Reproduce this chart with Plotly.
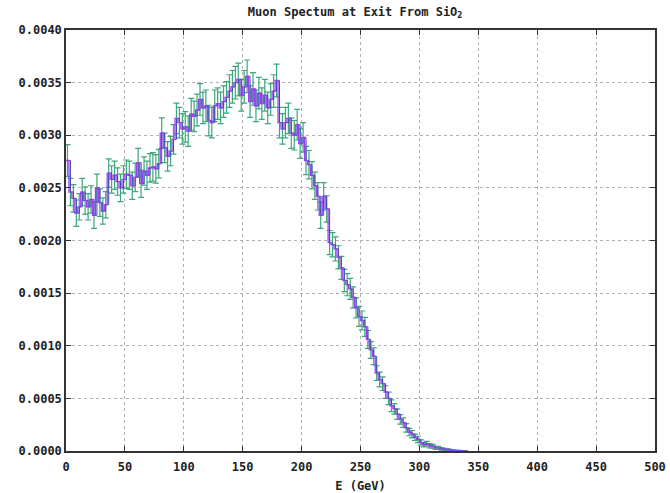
import plotly.graph_objects as go

# Histogram: 2.5 GeV bins starting at 0 GeV
bin_width = 2.5
# bin contents, in units of 1e-4
density_e4 = [
    27.6, 24.6, 24.0, 22.6, 23.2, 24.6, 23.8, 23.2, 23.9, 22.4,
    25.0, 23.6, 22.8, 23.4, 26.4, 25.8, 26.2, 25.6, 25.0, 25.8,
    26.3, 26.2, 25.2, 26.0, 27.4, 25.4, 26.6, 26.2, 26.9, 27.0,
    26.8, 27.3, 30.2, 28.8, 28.0, 28.5, 29.6, 31.6, 31.2, 30.6,
    30.8, 30.4, 32.0, 31.8, 32.4, 33.4, 32.6, 32.8, 31.4, 31.2,
    32.8, 33.0, 32.6, 33.2, 33.6, 34.2, 34.6, 35.0, 35.3, 33.8,
    34.6, 35.6, 33.2, 34.4, 32.8, 34.0, 33.0, 33.8, 32.6, 33.4,
    34.2, 35.2, 31.2, 30.6, 31.2, 31.6, 30.2, 30.0, 31.0, 29.2,
    29.8, 27.6, 27.2, 26.2, 25.2, 24.2, 22.4, 24.2, 23.0, 19.8,
    19.6, 19.2, 18.4, 17.4, 16.2, 15.8, 15.4, 14.6, 13.6, 12.8,
    12.4, 11.8, 10.6, 9.6, 9.0, 7.4, 6.8, 6.4, 5.6, 5.0,
    4.3, 4.0, 3.5, 3.0, 2.7, 2.2, 1.8, 1.6, 1.3, 1.1,
    0.8, 0.6, 0.7, 0.5, 0.45, 0.3, 0.3, 0.2, 0.15, 0.12,
    0.08, 0.05, 0.04, 0.02, 0.01, 0.01,
]
# statistical errors, in units of 1e-4
error_e4 = [
    1.5, 1.3, 1.3, 1.25, 1.25, 1.3, 1.3, 1.25, 1.3, 1.25,
    1.3, 1.3, 1.25, 1.25, 1.35, 1.3, 1.35, 1.3, 1.3, 1.3,
    1.35, 1.35, 1.3, 1.35, 1.35, 1.3, 1.35, 1.35, 1.35, 1.35,
    1.35, 1.35, 1.45, 1.4, 1.4, 1.4, 1.4, 1.45, 1.45, 1.45,
    1.45, 1.45, 1.5, 1.45, 1.5, 1.5, 1.5, 1.5, 1.45, 1.45,
    1.5, 1.5, 1.5, 1.5, 1.5, 1.55, 1.55, 1.55, 1.55, 1.5,
    1.55, 1.55, 1.5, 1.55, 1.5, 1.5, 1.5, 1.5, 1.5, 1.5,
    1.55, 1.55, 1.45, 1.45, 1.45, 1.45, 1.45, 1.4, 1.45, 1.4,
    1.4, 1.35, 1.35, 1.3, 1.3, 1.3, 1.25, 1.3, 1.25, 1.15,
    1.15, 1.15, 1.1, 1.1, 1.05, 1.05, 1.0, 1.0, 0.95, 0.95,
    0.9, 0.9, 0.85, 0.8, 0.8, 0.7, 0.7, 0.65, 0.6, 0.6,
    0.55, 0.5, 0.5, 0.45, 0.45, 0.4, 0.35, 0.35, 0.3, 0.3,
    0.25, 0.2, 0.22, 0.2, 0.18, 0.15, 0.15, 0.12, 0.1, 0.1,
    0.08, 0.06, 0.05, 0.04, 0.03, 0.03,
]
x_ticks = [0, 50, 100, 150, 200, 250, 300, 350, 400, 450, 500]
y_ticks = [0.0, 0.0005, 0.0010, 0.0015, 0.0020, 0.0025, 0.0030, 0.0035, 0.0040]
y_tick_text = ["0.0000", "0.0005", "0.0010", "0.0015", "0.0020",
               "0.0025", "0.0030", "0.0035", "0.0040"]

n = len(density_e4)
vals = [v * 1e-4 for v in density_e4]
errs = [e * 1e-4 for e in error_e4]
edges = [i * bin_width for i in range(n + 1)]
centers = [(edges[i] + edges[i + 1]) / 2 for i in range(n)]

PURPLE = "#9b3ff0"
BLUE = "#4444bb"
GREEN = "#3da67c"
FONT = "DejaVu Sans Mono"

fig = go.Figure()
# error bars
fig.add_trace(go.Scatter(
    x=centers, y=vals, mode="markers",
    marker=dict(size=1, color=GREEN, opacity=0),
    error_y=dict(type="data", array=errs, visible=True, color=GREEN,
                 thickness=1.2, width=3),
    showlegend=False, hoverinfo="skip"))
# steps through bin centres
fig.add_trace(go.Scatter(
    x=centers, y=vals, mode="lines", line=dict(color=BLUE, width=1.0, shape="hv"),
    showlegend=False))
# histogram steps
fig.add_trace(go.Scatter(
    x=edges, y=vals + [vals[-1]], mode="lines",
    line=dict(color=PURPLE, width=1.3, shape="hv"),
    showlegend=False))

axis_font = dict(family=FONT, size=12, color="#222222", weight="bold")
fig.update_layout(
    width=670, height=493,
    margin=dict(l=66, r=15, t=30, b=42),
    paper_bgcolor="white", plot_bgcolor="white",
    title=dict(text="Muon Spectum at Exit From SiO<sub>2</sub>",
               x=0.53, xanchor="center", y=0.985, yanchor="top",
               font=dict(family=FONT, size=12, color="#222222", weight="bold")),
    xaxis=dict(range=[0, 500], tickvals=x_ticks, ticks="inside", ticklen=5,
               tickcolor="#333333", showline=True, linecolor="#333333", linewidth=1.5,
               mirror="ticks", showgrid=True, gridcolor="#b0b0b0", griddash="dot",
               gridwidth=1, zeroline=False, tickfont=axis_font, automargin=False,
               ticklabelstandoff=4,
               title=dict(text="E (GeV)", font=axis_font, standoff=11)),
    yaxis=dict(range=[0, 0.004], tickvals=y_ticks, ticktext=y_tick_text,
               ticks="inside", ticklen=5, tickcolor="#333333", showline=True,
               linecolor="#333333", linewidth=1.5, mirror="ticks", showgrid=True,
               gridcolor="#b0b0b0", griddash="dot", gridwidth=1, zeroline=False,
               tickfont=axis_font, automargin=False),
)
fig.write_html("out.html")
